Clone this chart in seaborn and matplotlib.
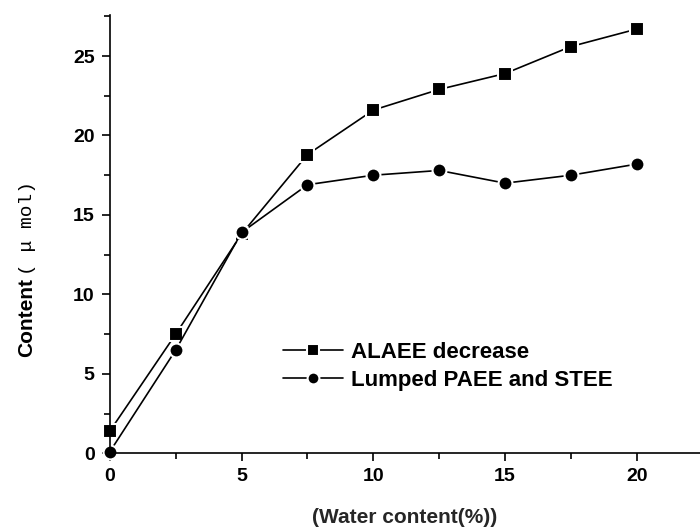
import pandas as pd
import seaborn as sns
import matplotlib.pyplot as plt
from matplotlib.ticker import MultipleLocator

water = [0, 2.5, 5, 7.5, 10, 12.5, 15, 17.5, 20]
alaee = [1.4, 7.5, 13.8, 18.8, 21.6, 22.9, 23.9, 25.6, 26.7]
lumped = [0.1, 6.5, 13.9, 16.9, 17.5, 17.8, 17.0, 17.5, 18.2]
labels = ["ALAEE decrease", "Lumped PAEE and STEE"]

sns.set_style("ticks")
plt.rcParams["font.family"] = ["Liberation Sans", "DejaVu Sans"]
plt.rcParams["font.weight"] = "bold"
plt.rcParams["text.color"] = "black"
plt.rcParams["xtick.color"] = "black"
plt.rcParams["ytick.color"] = "black"

df = pd.DataFrame({
    "water": water * 2,
    "content": alaee + lumped,
    "series": [labels[0]] * len(water) + [labels[1]] * len(water),
})

fig = plt.figure(figsize=(7, 5.27), dpi=100)
ax = fig.add_axes([0.157, 0.14, 0.843, 0.832])

sns.lineplot(
    data=df, x="water", y="content", style="series", markers=["s", "o"],
    dashes=False, color="black", markersize=10, linewidth=1.2,
    markeredgecolor="white", markeredgewidth=1.5, ax=ax, clip_on=False,
)

ax.set_xlim(0, 22.4)
ax.set_ylim(0, 27.6)
ax.xaxis.set_major_locator(MultipleLocator(5))
ax.xaxis.set_minor_locator(MultipleLocator(2.5))
ax.yaxis.set_major_locator(MultipleLocator(5))
ax.yaxis.set_minor_locator(MultipleLocator(2.5))
ax.tick_params(which="major", direction="out", length=6, width=1.2, labelsize=14,
               labelcolor="black", pad=5)
ax.tick_params(which="minor", direction="out", length=4, width=1.2)
for lab in ax.get_xticklabels() + ax.get_yticklabels():
    lab.set_fontweight("bold")
sns.despine(ax=ax)
for s in ["left", "bottom"]:
    ax.spines[s].set_linewidth(1.2)
    ax.spines[s].set_color("black")

ax.set_xlabel("(Water content(%))", fontsize=15, fontweight="bold", labelpad=16)
ax.set_ylabel("")

# y label: bold sans "Content" followed by a serif mono "( μ mol)"
fig.text(27 / 700, (527 - 357) / 527, "Content", rotation=90, ha="center", va="bottom",
         fontsize=15, fontweight="bold")
fig.text(27 / 700, (527 - 275) / 527, "( μ mol)", rotation=90, ha="center", va="bottom",
         fontsize=14, fontweight="normal", family=["Liberation Mono", "DejaVu Sans Mono"])

leg = ax.legend(
    title=None, frameon=False, fontsize=16, handlelength=2.7, handletextpad=0.35,
    loc="upper left", bbox_to_anchor=(0.26, 0.30), labelspacing=0.33, markerscale=0.85,
)
for t in leg.get_texts():
    t.set_fontweight("bold")

plt.savefig("out.png", dpi=100)
plt.close()
